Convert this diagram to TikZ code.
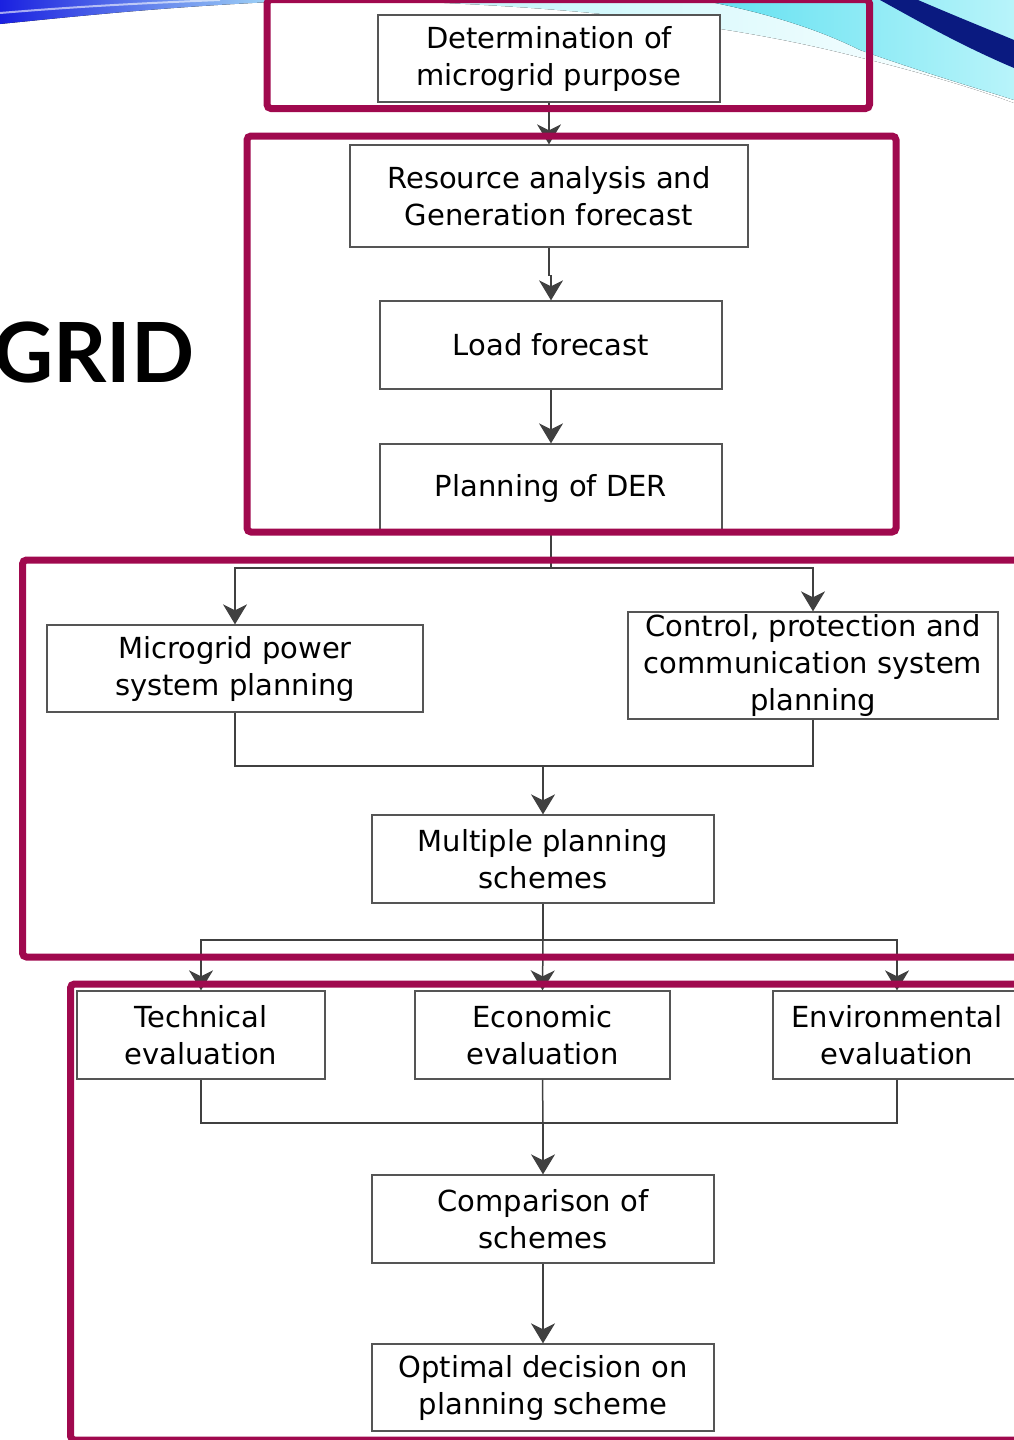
\documentclass[tikz,border=0pt]{standalone}
\usepackage{fontspec}
\setmainfont{DejaVu Sans}
\newfontfamily\latofont{Lato}
\usetikzlibrary{arrows.meta,calc}
\definecolor{frm}{HTML}{A0094E}
\definecolor{ln}{HTML}{404040}
\definecolor{bx}{HTML}{555555}
\definecolor{deepblue}{HTML}{1A20E0}
\definecolor{midblue}{HTML}{6A8AF0}
\definecolor{lightcyan}{HTML}{B8F4FA}
\definecolor{cyanA}{HTML}{60E0F0}
\definecolor{navy}{HTML}{0A1A80}
\begin{document}
\begin{tikzpicture}[x=1pt,y=-1pt,
  box/.style={draw=bx, line width=1.3pt, fill=white, inner sep=0pt, align=center,
    font=\fontsize{29}{37}\selectfont},
  conn/.style={draw=ln, line width=1.5pt},
  arr/.style={conn, -{Stealth[length=20pt,width=24pt,inset=6pt]}},
  redframe/.style={draw=frm, line width=7pt, rounded corners=4pt}]
\useasboundingbox (0,0) rectangle (1014,1440);
\clip (0,0) rectangle (1014,1440);

% decorative swooshes
\fill[left color=lightcyan, right color=white] (350,0) .. controls (600,5) and (750,30) .. (850,55)
   .. controls (920,72) and (980,90) .. (1014,103) -- (1014,0) -- cycle;
\fill[left color=cyanA, right color=lightcyan] (700,0) .. controls (780,15) and (830,35) .. (860,50)
   .. controls (930,75) and (990,92) .. (1014,100) -- (1014,0) -- cycle;
\fill[navy] (880,0) -- (918,0) .. controls (960,18) and (990,30) .. (1014,40) -- (1014,68)
   .. controls (960,45) and (920,22) .. (880,0) -- cycle;
\fill[left color=deepblue, right color=lightcyan] (0,0) -- (0,24) .. controls (80,16) and (180,5) .. (320,0) -- cycle;
\draw[white, opacity=0.6, line width=2pt] (0,13) .. controls (60,8) and (120,4) .. (220,0);

% GRID title
\node[anchor=base west, inner sep=0pt, font=\latofont\bfseries\fontsize{83}{83}\selectfont] (title) at (-7,382) {GRID};

% boxes
\node[box, minimum width=342pt, minimum height=87pt] (b1) at (549,58.5) {Determination of\\microgrid purpose};
\node[box, minimum width=398pt, minimum height=102pt] (b2) at (549,196) {Resource analysis and\\Generation forecast};
\node[box, minimum width=342pt, minimum height=88pt] (b3) at (551,345) {Load forecast};
\node[box, minimum width=342pt, minimum height=88pt] (b4) at (551,488) {Planning of DER};
\node[box, minimum width=376pt, minimum height=87pt] (b5) at (235,668.5) {Microgrid power\\system planning};
\node[box, minimum width=370pt, minimum height=107pt] (b6) at (813,665.5) {Control, protection and\\communication system\\planning};
\node[box, minimum width=342pt, minimum height=88pt] (b7) at (543,859) {Multiple planning\\schemes};
\node[box, minimum width=248pt, minimum height=88pt] (b8) at (201,1035) {Technical\\evaluation};
\node[box, minimum width=255pt, minimum height=88pt] (b9) at (542.5,1035) {Economic\\evaluation};
\node[box, minimum width=248pt, minimum height=88pt] (b10) at (897,1035) {Environmental\\evaluation};
\node[box, minimum width=342pt, minimum height=88pt] (b11) at (543,1219) {Comparison of\\schemes};
\node[box, minimum width=342pt, minimum height=87pt] (b12) at (543,1387.5) {Optimal decision on\\planning scheme};

% connectors
\draw[arr] (b1.south) -- (b2.north);
\draw[arr] (b2.south) -- ++(0,28) -| (b3.north);
\draw[arr] (b3.south) -- (b4.north);
\coordinate (s1) at (551,568);
\draw[conn] (b4.south) -- (s1);
\draw[arr] (s1) -| (b5.north);
\draw[arr] (s1) -| (b6.north);
\coordinate (m1) at (543,766);
\draw[conn] (b5.south) |- (m1);
\draw[conn] (b6.south) |- (m1);
\draw[arr] (m1) -- (b7.north);
\coordinate (s2) at (543,940);
\draw[conn] (b7.south) -- (s2);
\draw[arr] (s2) -| (b8.north);
\draw[arr] (s2) -- (b9.north);
\draw[arr] (s2) -| (b10.north);
\coordinate (m2) at (543,1123);
\draw[conn] (b8.south) |- (m2);
\draw[conn] (b10.south) |- (m2);
\draw[conn] (b9.south) -- (m2);
\draw[arr] (m2) -- (b11.north);
\draw[arr] (b11.south) -- (b12.north);

% red frames
\draw[redframe] (267,-0.5) rectangle (869.5,108.5);
\draw[redframe] (247,136) rectangle (896,532);
\draw[redframe] (22.5,560) rectangle (1040,957);
\draw[redframe] (70.5,984) rectangle (1040,1440);
\end{tikzpicture}
\end{document}
